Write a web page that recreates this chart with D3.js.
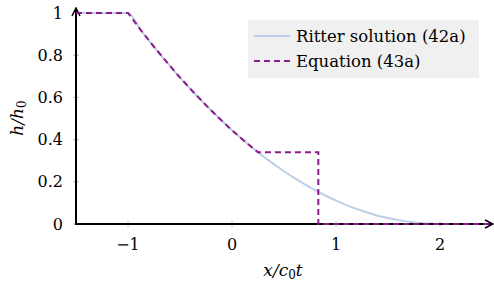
<!DOCTYPE html>
<html>
<head>
<meta charset="utf-8">
<script src="https://cdn.jsdelivr.net/npm/d3@7"></script>
<style>
  body { margin: 0; background: #fff; }
  svg text { font-family: "DejaVu Serif"; }
</style>
</head>
<body>
<svg id="chart" width="494" height="290"></svg>
<script>
// data
const ritterX = [-1.5, -1, -0.875, -0.75, -0.625, -0.5, -0.375, -0.25, -0.125, 0, 0.125, 0.25, 0.375, 0.5, 0.625, 0.75, 0.875, 1, 1.125, 1.25, 1.375, 1.5, 1.625, 1.75, 1.875, 2, 2.5];
const ritterH = [1, 1, 0.918, 0.84, 0.766, 0.694, 0.627, 0.563, 0.502, 0.444, 0.391, 0.34, 0.293, 0.25, 0.21, 0.174, 0.141, 0.111, 0.085, 0.063, 0.043, 0.028, 0.016, 0.007, 0.002, 0, 0];
const eqX = [-1.5, -1, -0.875, -0.75, -0.625, -0.5, -0.375, -0.25, -0.125, 0, 0.125, 0.25, 0.83, 0.83, 2.5];
const eqH = [1, 1, 0.918, 0.84, 0.766, 0.694, 0.627, 0.563, 0.502, 0.444, 0.391, 0.34, 0.34, 0, 0];
const xTicks = [-1, 0, 1, 2];
const yTicks = [0, 0.2, 0.4, 0.6, 0.8, 1];
const legendLabels = ["Ritter solution (42a)", "Equation (43a)"];

const svg = d3.select('#chart');
const x = d3.scaleLinear().domain([-1.5, 2.5]).range([76, 492]);
const y = d3.scaleLinear().domain([0, 1]).range([224, 13]);
const fmt = d => d < 0 ? '\u2212' + Math.abs(d) : String(d);

// ticks
svg.append('g').selectAll('line').data(xTicks).join('line')
  .attr('x1', d => x(d)).attr('x2', d => x(d))
  .attr('y1', y(0) - 3).attr('y2', y(0) + 3)
  .attr('stroke', '#b0b0b0').attr('stroke-width', 0.8);
svg.append('g').selectAll('line').data(yTicks).join('line')
  .attr('x1', x(-1.5) - 3).attr('x2', x(-1.5) + 3)
  .attr('y1', d => y(d)).attr('y2', d => y(d))
  .attr('stroke', '#b0b0b0').attr('stroke-width', 0.8);

svg.append('g').selectAll('text').data(xTicks).join('text')
  .attr('x', d => x(d)).attr('y', 250)
  .attr('text-anchor', 'middle').attr('font-size', 16)
  .text(fmt);
svg.append('g').selectAll('text').data(yTicks).join('text')
  .attr('x', 63).attr('y', d => y(d) + 5.5)
  .attr('text-anchor', 'end').attr('font-size', 16)
  .text(d => String(d));

// lines
const ritter = ritterX.map((v, i) => ({ x: v, h: ritterH[i] }));
const eq = eqX.map((v, i) => ({ x: v, h: eqH[i] }));

svg.append('path')
  .attr('d', d3.line().x(d => x(d.x)).y(d => y(d.h)).curve(d3.curveMonotoneX)(ritter))
  .attr('fill', 'none').attr('stroke', '#bccfe6').attr('stroke-width', 2);

// axes with arrows
svg.append('defs').append('marker')
  .attr('id', 'arr').attr('viewBox', '0 0 10 10').attr('refX', 9).attr('refY', 5)
  .attr('markerWidth', 5).attr('markerHeight', 5).attr('orient', 'auto')
  .append('path').attr('d', 'M1,1 L9,5 L1,9').attr('fill', 'none')
  .attr('stroke', '#000').attr('stroke-width', 1.5);

svg.append('line')
  .attr('x1', x(-1.5)).attr('x2', 493).attr('y1', y(0)).attr('y2', y(0))
  .attr('stroke', '#000').attr('stroke-width', 2).attr('marker-end', 'url(#arr)');
svg.append('line')
  .attr('x1', x(-1.5)).attr('x2', x(-1.5)).attr('y1', y(0) + 1).attr('y2', 8)
  .attr('stroke', '#000').attr('stroke-width', 2).attr('marker-end', 'url(#arr)');

svg.append('path')
  .attr('d', d3.line().x(d => x(d.x)).y(d => y(d.h))(eq))
  .attr('fill', 'none').attr('stroke', '#8e1a8e').attr('stroke-width', 2)
  .attr('stroke-dasharray', '6,4');

// axis labels
svg.append('text').attr('x', 283).attr('y', 276).attr('text-anchor', 'middle')
  .attr('font-size', 17).attr('font-style', 'italic')
  .html('x/c<tspan font-style="normal" font-size="12" dy="3">0</tspan><tspan dy="-3">t</tspan>');
svg.append('text').attr('transform', 'translate(23,118) rotate(-90)')
  .attr('text-anchor', 'middle').attr('font-size', 17).attr('font-style', 'italic')
  .html('h/h<tspan font-style="normal" font-size="12" dy="3">0</tspan>');

// legend
const lg = svg.append('g');
lg.append('rect').attr('x', 248).attr('y', 20).attr('width', 231).attr('height', 58)
  .attr('fill', '#f0f0f0');
const styles = [
  { stroke: '#bccfe6', dash: null },
  { stroke: '#8e1a8e', dash: '6,4' }
];
legendLabels.forEach((t, i) => {
  const yy = 36 + i * 25;
  lg.append('line').attr('x1', 254).attr('x2', 290).attr('y1', yy).attr('y2', yy)
    .attr('stroke', styles[i].stroke).attr('stroke-width', 2)
    .attr('stroke-dasharray', styles[i].dash);
  lg.append('text').attr('x', 296).attr('y', yy + 5.5).attr('font-size', 16.5).text(t);
});
</script>
</body>
</html>
